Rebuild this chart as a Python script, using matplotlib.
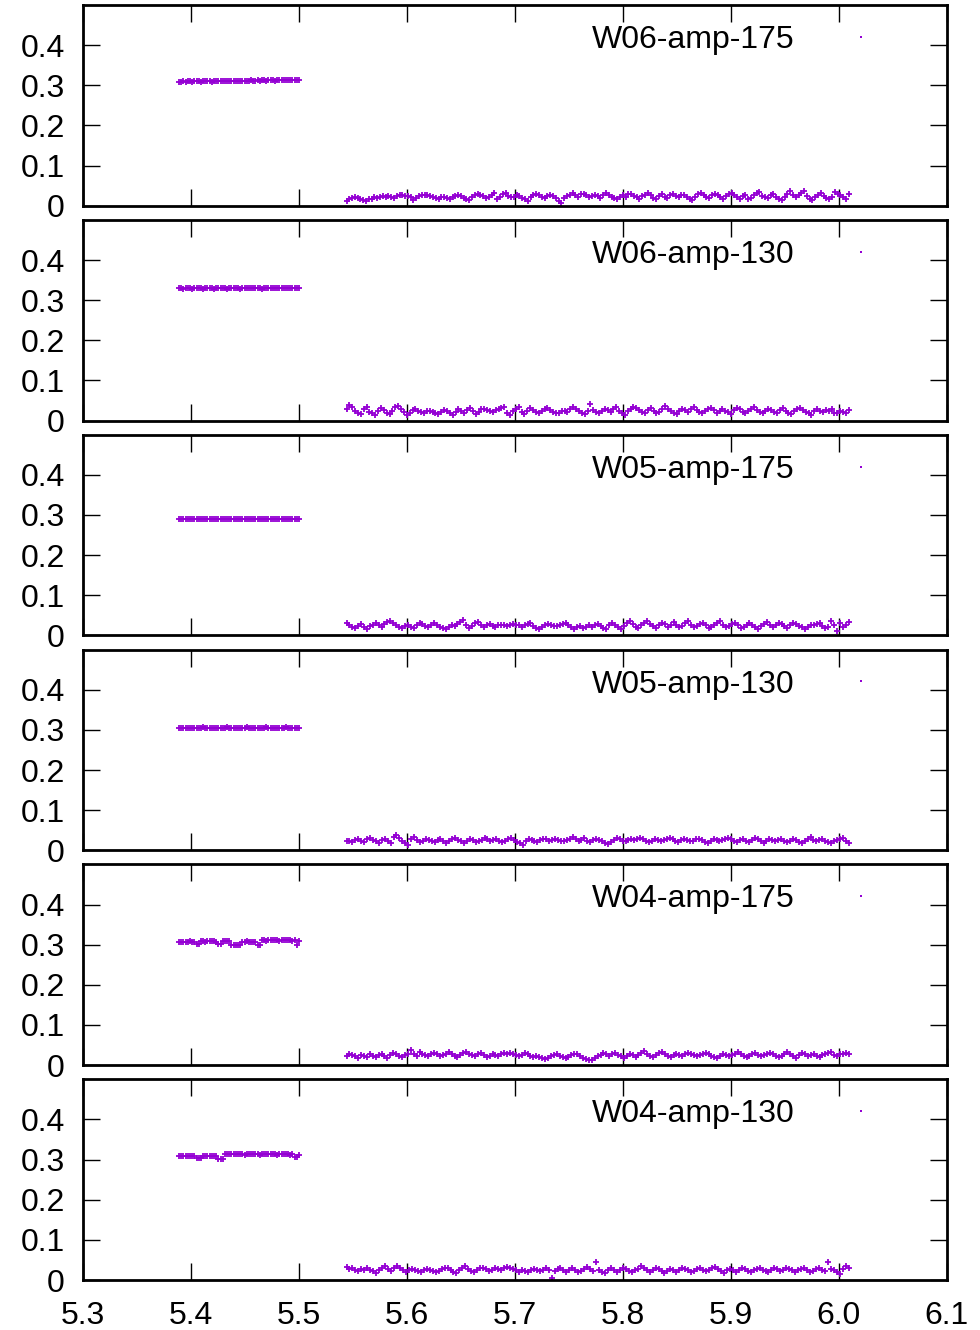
import matplotlib
matplotlib.use('Agg')
import matplotlib.pyplot as plt
import numpy as np

plt.rcParams['font.family'] = ['Liberation Sans', 'DejaVu Sans']

labels = ['W06-amp-175', 'W06-amp-130', 'W05-amp-175',
          'W05-amp-130', 'W04-amp-175', 'W04-amp-130']

# first block: 5.389 .. 5.500, values in 1e-3
block1_range = (5.389, 5.500)
b1_w06_175 = [309, 309, 310, 309, 310, 310, 309, 310, 310, 310, 309, 310, 310, 310, 310, 309,
              310, 310, 311, 310, 310, 310, 311, 310, 311, 311, 310, 311, 311, 311, 310, 311,
              311, 312, 311, 311, 312, 311, 312, 312, 311, 312, 312, 312, 311, 312, 313, 312,
              312, 313, 312, 313, 313, 312, 313, 313]
b1_w06_130 = [330, 330, 329, 330, 330, 330, 329, 330, 330, 330, 330, 329, 330, 330, 330, 330,
              329, 330, 330, 330, 330, 330, 329, 330, 330, 330, 330, 330, 329, 330, 330, 330,
              331, 330, 330, 330, 330, 330, 329, 330, 330, 330, 331, 330, 330, 330, 330, 331,
              330, 330, 330, 330, 331, 331, 330, 331]
b1_w05_175 = [290, 290, 289, 290, 290, 290, 290, 289, 290, 290, 290, 290, 291, 290, 290, 290,
              289, 290, 290, 290, 290, 290, 290, 289, 290, 290, 290, 291, 290, 290, 290, 290,
              289, 290, 290, 290, 290, 291, 290, 290, 290, 289, 290, 290, 290, 290, 290, 291,
              290, 290, 290, 289, 290, 290, 290, 290]
b1_w05_130 = [305, 305, 304, 305, 305, 305, 305, 304, 305, 305, 305, 306, 305, 305, 305, 305,
              304, 305, 305, 305, 305, 305, 306, 305, 305, 304, 305, 305, 305, 305, 305, 306,
              305, 305, 305, 304, 305, 305, 305, 305, 306, 305, 305, 305, 305, 304, 305, 305,
              305, 306, 305, 305, 305, 304, 305, 305]
b1_w04_175 = [307, 307, 306, 307, 307, 308, 307, 307, 301, 301, 308, 308, 307, 308, 309, 308,
              308, 307, 302, 302, 308, 308, 309, 308, 299, 300, 299, 300, 300, 307, 307, 308,
              307, 307, 306, 307, 299, 300, 311, 311, 310, 311, 311, 312, 311, 311, 310, 311,
              311, 311, 312, 311, 310, 311, 300, 308]
b1_w04_130 = [309, 309, 309, 310, 309, 309, 309, 309, 303, 303, 304, 308, 309, 309, 310, 309,
              309, 308, 302, 301, 302, 313, 313, 314, 313, 313, 313, 314, 313, 313, 312, 313,
              313, 314, 313, 313, 313, 312, 313, 313, 314, 313, 313, 313, 313, 312, 313, 313,
              314, 313, 313, 312, 313, 307, 307, 311]

# second block: 5.544 .. 6.009, values in 1e-3
block2_range = (5.544, 6.009)
b2_w06_175 = [12, 17, 20, 22, 19, 17, 15, 13, 16, 18, 21, 20, 22, 24, 23, 25, 22,
              19, 24, 26, 27, 25, 24, 22, 14, 20, 25, 26, 28, 27, 24, 22, 20, 17,
              21, 23, 19, 16, 22, 25, 27, 24, 20, 18, 14, 22, 28, 30, 26, 24, 20,
              23, 27, 33, 18, 22, 29, 31, 25, 21, 23, 26, 24, 19, 16, 12, 21, 27,
              30, 26, 22, 19, 24, 28, 25, 20, 13, 8, 19, 25, 28, 31, 27, 23, 29,
              30, 26, 22, 25, 28, 24, 20, 27, 31, 28, 22, 19, 16, 23, 26, 21, 30,
              29, 25, 22, 18, 24, 27, 31, 26, 20, 17, 25, 29, 22, 19, 27, 30, 24,
              21, 26, 28, 22, 18, 14, 23, 29, 32, 28, 23, 20, 26, 30, 27, 21, 17,
              24, 29, 33, 26, 22, 18, 25, 28, 16, 20, 27, 31, 35, 24, 21, 19, 26,
              30, 23, 18, 15, 22, 29, 36, 27, 21, 26, 33, 38, 24, 18, 14, 22, 28,
              31, 25, 20, 17, 23, 34, 30, 26, 22, 18, 29]
b2_w06_130 = [30, 38, 33, 25, 20, 16, 28, 35, 22, 18, 14, 24, 31, 27, 20, 17, 25,
              33, 37, 30, 22, 14, 18, 26, 28, 24, 22, 20, 23, 25, 22, 19, 16, 21,
              27, 24, 18, 13, 22, 29, 25, 20, 26, 31, 23, 17, 21, 28, 30, 27, 24,
              22, 26, 29, 31, 33, 20, 14, 24, 30, 35, 22, 17, 25, 32, 27, 21, 19,
              24, 28, 31, 26, 22, 18, 20, 25, 23, 21, 28, 34, 30, 25, 19, 16, 24,
              42, 27, 21, 18, 25, 29, 26, 22, 30, 33, 25, 20, 15, 24, 28, 35, 31,
              26, 22, 19, 27, 32, 24, 18, 21, 28, 36, 30, 24, 20, 17, 25, 29, 26,
              22, 30, 33, 27, 21, 18, 24, 28, 32, 26, 20, 23, 29, 25, 21, 17, 26,
              31, 28, 22, 19, 25, 30, 34, 27, 21, 18, 24, 29, 26, 22, 20, 27, 31,
              25, 19, 16, 23, 28, 32, 26, 22, 18, 15, 24, 29, 25, 21, 27, 23, 28,
              20, 18, 25, 22, 19, 26]
b2_w05_175 = [32, 26, 22, 18, 24, 28, 20, 16, 23, 27, 30, 25, 21, 28, 33, 35, 30,
              26, 22, 19, 24, 27, 22, 18, 25, 30, 28, 24, 20, 26, 31, 27, 22, 18,
              15, 21, 26, 24, 29, 34, 38, 25, 19, 23, 30, 33, 27, 22, 25, 28, 24,
              22, 26, 27, 25, 24, 26, 28, 27, 25, 22, 26, 29, 31, 24, 18, 15, 21,
              26, 29, 27, 24, 23, 25, 28, 30, 27, 22, 16, 20, 24, 18, 21, 25, 22,
              26, 29, 23, 19, 15, 25, 31, 27, 21, 17, 24, 30, 35, 28, 22, 19, 26,
              31, 37, 29, 23, 18, 25, 31, 28, 22, 27, 33, 26, 20, 24, 30, 36, 27,
              21, 24, 28, 31, 25, 19, 22, 27, 30, 35, 26, 20, 23, 28, 32, 25, 18,
              22, 26, 30, 27, 21, 17, 24, 29, 33, 26, 21, 25, 30, 28, 23, 19, 26,
              31, 29, 24, 20, 17, 22, 27, 25, 28, 32, 24, 18, 20, 35, 26, 12, 30,
              22, 25, 33]
b2_w05_130 = [22, 24, 21, 25, 27, 23, 20, 28, 31, 26, 22, 17, 25, 29, 24, 19, 33,
              38, 30, 22, 18, 14, 27, 32, 26, 21, 24, 28, 25, 22, 20, 26, 29, 24,
              18, 23, 27, 30, 26, 22, 19, 24, 28, 25, 21, 23, 26, 30, 27, 22, 25,
              28, 24, 20, 23, 27, 31, 26, 21, 18, 14, 22, 28, 26, 24, 20, 25, 29,
              27, 23, 25, 28, 26, 24, 22, 25, 29, 33, 27, 23, 26, 30, 24, 20, 25,
              29, 26, 22, 19, 16, 21, 26, 30, 27, 24, 22, 25, 28, 26, 29, 31, 27,
              23, 20, 24, 27, 25, 22, 26, 28, 30, 27, 23, 20, 25, 28, 26, 22, 24,
              27, 29, 25, 21, 18, 23, 28, 26, 22, 25, 29, 31, 27, 22, 20, 25, 28,
              24, 21, 26, 30, 27, 23, 19, 24, 28, 25, 22, 26, 29, 24, 20, 23, 27,
              25, 21, 18, 24, 28, 32, 26, 22, 25, 29, 24, 20, 17, 22, 26, 28, 30,
              24, 19]
b2_w04_175 = [24, 28, 25, 22, 18, 26, 23, 20, 27, 24, 21, 25, 28, 22, 19, 26, 30,
              27, 23, 20, 25, 29, 38, 27, 23, 34, 29, 25, 22, 28, 31, 27, 24, 26,
              29, 32, 27, 23, 20, 25, 30, 34, 29, 25, 22, 27, 31, 26, 21, 24, 28,
              25, 22, 27, 30, 29, 31, 28, 25, 22, 26, 30, 27, 23, 20, 24, 21, 18,
              16, 19, 22, 25, 28, 24, 20, 17, 21, 25, 29, 27, 23, 19, 15, 12, 14,
              18, 22, 26, 30, 27, 24, 28, 31, 26, 22, 19, 24, 28, 25, 21, 26, 30,
              36, 27, 23, 20, 26, 30, 33, 28, 24, 21, 26, 29, 25, 22, 27, 31, 29,
              26, 23, 25, 28, 30, 27, 24, 21, 19, 23, 27, 25, 22, 26, 29, 32, 28,
              24, 20, 23, 27, 30, 26, 22, 25, 28, 31, 27, 23, 20, 24, 29, 33, 27,
              22, 19, 25, 30, 27, 23, 26, 29, 24, 21, 25, 28, 30, 33, 26, 22, 27,
              29, 30, 27]
b2_w04_130 = [33, 28, 30, 24, 22, 27, 25, 30, 26, 22, 18, 24, 29, 34, 27, 22, 30,
              36, 30, 25, 20, 24, 28, 26, 23, 21, 25, 27, 24, 22, 19, 23, 27, 31,
              29, 25, 21, 18, 24, 30, 34, 28, 23, 20, 25, 29, 31, 27, 22, 26, 30,
              27, 24, 29, 32, 30, 27, 25, 21, 25, 23, 20, 24, 28, 26, 22, 25, 29,
              24, 4, 22, 27, 31, 26, 21, 24, 29, 25, 20, 23, 28, 33, 27, 22, 45,
              26, 21, 18, 24, 29, 26, 21, 25, 30, 27, 23, 19, 24, 28, 34, 29, 24,
              20, 25, 30, 27, 22, 18, 23, 28, 25, 21, 26, 31, 28, 24, 20, 23, 27,
              30, 26, 22, 25, 29, 33, 27, 22, 18, 24, 28, 25, 21, 26, 30, 27, 23,
              19, 24, 28, 31, 26, 22, 20, 25, 29, 27, 23, 26, 30, 28, 24, 21, 25,
              27, 29, 24, 20, 23, 27, 31, 26, 22, 45, 28, 24, 19, 14, 27, 36, 30]

block1 = [b1_w06_175, b1_w06_130, b1_w05_175, b1_w05_130, b1_w04_175, b1_w04_130]
block2 = [b2_w06_175, b2_w06_130, b2_w05_175, b2_w05_130, b2_w04_175, b2_w04_130]

xticks = [5.3, 5.4, 5.5, 5.6, 5.7, 5.8, 5.9, 6.0, 6.1]
yticks = [0, 0.1, 0.2, 0.3, 0.4]
color = '#9400d3'

fig, axes = plt.subplots(6, 1, figsize=(9.8, 13.3), dpi=100, sharex=True)
fig.subplots_adjust(left=83/980, right=947/980, top=1-5/1330, bottom=50/1330, hspace=0.07)

for ax, lab, v1, v2 in zip(axes, labels, block1, block2):
    x1 = np.linspace(*block1_range, len(v1))
    x2 = np.linspace(*block2_range, len(v2))
    x = np.concatenate([x1, x2])
    y = np.concatenate([v1, v2]) / 1000.0
    ax.plot(x, y, ls='none', marker='+', ms=3.8, mew=1.3, color=color, label=lab)
    ax.set_xlim(5.3, 6.1)
    ax.set_ylim(0, 0.5)
    ax.set_yticks(yticks)
    ax.set_yticklabels(['%g' % t for t in yticks])
    ax.set_xticks(xticks)
    ax.tick_params(direction='in', length=12, width=1.0, top=True, right=True,
                   labelsize=23, colors='black')
    ax.tick_params(axis='y', pad=13)
    ax.tick_params(axis='x', pad=15)
    for s in ax.spines.values():
        s.set_linewidth(2.0)
    ax.legend(loc='upper right', bbox_to_anchor=(0.9375, 0.9), borderaxespad=0,
              borderpad=0, frameon=False, markerfirst=False, numpoints=1,
              handlelength=2.0, handletextpad=1.07, fontsize=23, markerscale=0.5)

axes[-1].set_xticklabels(['%.1f' % t for t in xticks])
fig.savefig('out.png', dpi=100)
